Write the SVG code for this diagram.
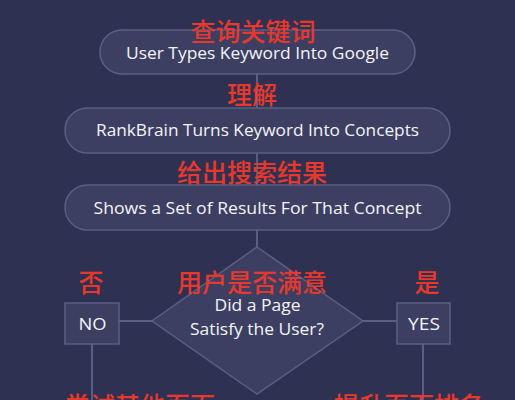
<svg xmlns="http://www.w3.org/2000/svg" width="515" height="400" viewBox="0 0 515 400">
<style>
.node{fill:#3c3f61;stroke:#5b5f82;stroke-width:1.5}
.t{font-family:"Open Sans","Liberation Sans",sans-serif;font-size:16px;fill:#f4f4f8;text-anchor:middle;dominant-baseline:central}
.cn{font-family:"Noto Sans CJK SC",sans-serif;font-size:25px;fill:#e8382b;text-anchor:middle;font-weight:500}
.c{stroke:#6a6e90;stroke-width:1.5;fill:none}
</style>
<rect width="515" height="400" fill="#2e3152"/>
<g id="connectors">
<line class="c" x1="257" y1="74" x2="257" y2="108"/>
<line class="c" x1="257" y1="153" x2="257" y2="185"/>
<line class="c" x1="257" y1="230" x2="257" y2="247"/>
<line class="c" x1="119" y1="321" x2="152" y2="321"/>
<line class="c" x1="363" y1="321" x2="397" y2="321"/>
<line class="c" x1="92" y1="344" x2="92" y2="400"/>
<line class="c" x1="423" y1="344" x2="423" y2="400"/>
</g>
<g id="n1">
<rect class="node" x="100" y="30" width="315" height="44" rx="22"/>
<text class="t" x="257.5" y="53" textLength="263" lengthAdjust="spacingAndGlyphs">User Types Keyword Into Google</text>
</g>
<g id="n2">
<rect class="node" x="65" y="108" width="385" height="45" rx="22.5"/>
<text class="t" x="257.5" y="130" textLength="323" lengthAdjust="spacingAndGlyphs">RankBrain Turns Keyword Into Concepts</text>
</g>
<g id="n3">
<rect class="node" x="65" y="185" width="385" height="45" rx="22.5"/>
<text class="t" x="257.5" y="208" textLength="328" lengthAdjust="spacingAndGlyphs">Shows a Set of Results For That Concept</text>
</g>
<g id="decision">
<polygon class="node" points="257,247 363,321 257,394 152,321"/>
<text class="t" x="257.5" y="305" textLength="86" lengthAdjust="spacingAndGlyphs">Did a Page</text>
<text class="t" x="257" y="329" textLength="134" lengthAdjust="spacingAndGlyphs">Satisfy the User?</text>
</g>
<g id="no">
<rect class="node" x="65" y="303" width="54" height="41"/>
<text class="t" x="92.5" y="324" textLength="28" lengthAdjust="spacingAndGlyphs">NO</text>
</g>
<g id="yes">
<rect class="node" x="397" y="303" width="53" height="41"/>
<text class="t" x="424" y="324" textLength="32" lengthAdjust="spacingAndGlyphs">YES</text>
</g>
<g id="labels">
<text class="cn" x="253" y="41">查询关键词</text>
<text class="cn" x="252" y="104">理解</text>
<text class="cn" x="252" y="182">给出搜索结果</text>
<text class="cn" x="91" y="292">否</text>
<text class="cn" x="252" y="292">用户是否满意</text>
<text class="cn" x="427" y="292">是</text>
<text class="cn" x="140" y="415">尝试其他页面</text>
<text class="cn" x="409" y="415">提升页面排名</text>
</g>
</svg>
